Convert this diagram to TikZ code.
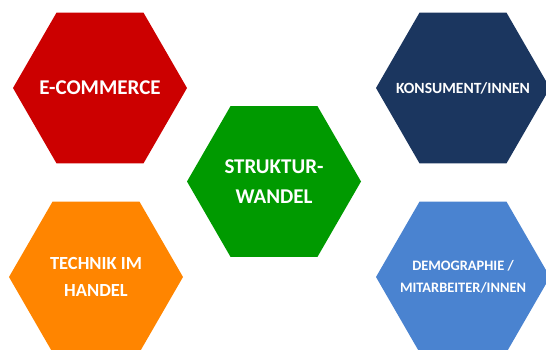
\documentclass[tikz,border=0pt]{standalone}
\usepackage{fontspec}
\setmainfont{Carlito}
\usetikzlibrary{shapes.geometric}

\definecolor{hexred}{RGB}{204,0,0}
\definecolor{hexnavy}{RGB}{27,54,95}
\definecolor{hexgreen}{RGB}{0,154,0}
\definecolor{hexorange}{RGB}{255,133,0}
\definecolor{hexblue}{RGB}{74,131,208}

\tikzset{
  hexa/.style={regular polygon, regular polygon sides=6, minimum size=174pt,
    inner sep=0pt},
  hexlabel/.style={text=white, align=center, inner sep=0pt}
}

\begin{document}
\begin{tikzpicture}[x=1pt,y=-1pt]
    \useasboundingbox (0,0) rectangle (546,349);
    \clip (0,0) rectangle (546,349);

    % top left: e-commerce
    \node[hexa,fill=hexred] (ecom) at (100,88) {};
    \node[hexlabel,font=\bfseries\fontsize{21}{30}\selectfont] (ecomtext) at (ecom.center)
      {E-COMMERCE};

    % top right: consumers
    \node[hexa,fill=hexnavy] (kons) at (463,88) {};
    \node[hexlabel,font=\bfseries\fontsize{15.6}{22}\selectfont] (konstext) at (kons.center)
      {KONSUMENT/INNEN};

    % centre: structural change
    \node[hexa,fill=hexgreen] (struk) at (274,181.5) {};
    \node[hexlabel,font=\bfseries\fontsize{21}{30}\selectfont] (struktext) at (struk.center)
      {STRUKTUR-\\WANDEL};

    % bottom left: technology
    \node[hexa,fill=hexorange] (tech) at (96,277) {};
    \node[hexlabel,font=\bfseries\fontsize{18.5}{27}\selectfont] (techtext) at (tech.center)
      {TECHNIK IM\\HANDEL};

    % bottom right: demography / staff
    \node[hexa,fill=hexblue] (demo) at (463,277) {};
    \node[hexlabel,font=\bfseries\fontsize{14.4}{22}\selectfont] (demotext) at (demo.center)
      {DEMOGRAPHIE /\\MITARBEITER/INNEN};
\end{tikzpicture}
\end{document}
